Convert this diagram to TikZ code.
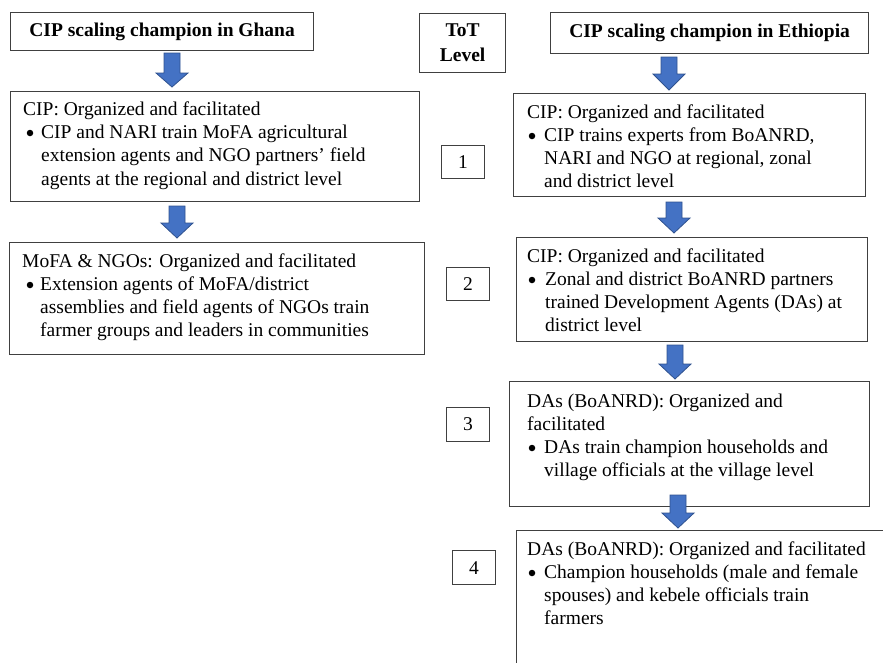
\documentclass[tikz,border=0pt]{standalone}
\usepackage{fontspec}
\setmainfont{Liberation Serif}
\definecolor{arrowblue}{HTML}{4472C4}
\definecolor{arrowedge}{HTML}{2F528F}
\definecolor{boxedge}{HTML}{404040}
\newcommand\bluearrow[4]{%
  \filldraw[arrowblue, draw=arrowedge, line width=0.8pt, line join=miter]
    (#1-8,#2) -- (#1+8,#2) -- (#1+8,#3) -- (#1+16,#3) -- (#1,#4) -- (#1-16,#3) -- (#1-8,#3) -- cycle;}
\begin{document}
\begin{tikzpicture}[x=1pt, y=-1pt,
  box/.style={draw=boxedge, line width=1.2pt, fill=white, inner sep=0pt, anchor=north west},
  txt/.style={inner sep=0pt, anchor=base west, font=\fontsize{19.5}{23.3}\selectfont},
  dot/.style={circle, fill=black, inner sep=0pt, minimum size=6.5pt},
  hdr/.style={font=\fontsize{19.5}{23.3}\selectfont\bfseries},
  lvl/.style={font=\fontsize{19.5}{23.3}\selectfont}]
\useasboundingbox (0,0) rectangle (883,662);
\clip (0,0) rectangle (883,662);
% headers
\node[box, hdr, minimum width=303pt, minimum height=38pt] (gh) at (10,12) {CIP scaling champion in Ghana};
\node[box, hdr, minimum width=86pt, minimum height=59pt, align=center,
      font=\fontsize{19.5}{25}\selectfont\bfseries] (tot) at (419,13) {ToT\\Level};
\node[box, hdr, minimum width=318pt, minimum height=41pt] (eh) at (550,12) {CIP scaling champion in Ethiopia};
% Ghana boxes
\node[box, minimum width=409pt, minimum height=110pt] (g1) at (10,91) {};
\node[box, minimum width=415pt, minimum height=112pt] (g2) at (9,242) {};
% Ethiopia boxes
\node[box, minimum width=352pt, minimum height=103pt] (e1) at (513,93) {};
\node[box, minimum width=351pt, minimum height=104pt] (e2) at (516,237) {};
\node[box, minimum width=360pt, minimum height=125pt] (e3) at (509,381) {};
\node[box, minimum width=400pt, minimum height=160pt] (e4) at (516,530) {};
% level boxes
\node[box, lvl, minimum width=43pt, minimum height=33pt] (l1) at (441,145) {1};
\node[box, lvl, minimum width=43pt, minimum height=33pt] (l2) at (446,267) {2};
\node[box, lvl, minimum width=43pt, minimum height=34pt] (l3) at (446,407) {3};
\node[box, lvl, minimum width=43pt, minimum height=34pt] (l4) at (452,550) {4};
% arrows
\bluearrow{172}{53}{73}{87}
\bluearrow{177}{206}{223}{238}
\bluearrow{669}{57}{74}{90}
\bluearrow{674}{202}{218}{233}
\bluearrow{675}{345}{364}{379}
\bluearrow{678}{495}{513}{528}
% Ghana box 1 text
\node[txt] (g1h) at (23,115) {CIP: Organized and facilitated};
\node[dot] (g1b) at (30,133) {};
\node[txt] (g1a) at (41,138.3) {CIP and NARI train MoFA agricultural};
\node[txt] (g1c) at (41,161.6) {extension agents and NGO partners’ field};
\node[txt] (g1d) at (41,185) {agents at the regional and district level};
% Ghana box 2 text
\node[txt] (g2h) at (22,267) {MoFA \& NGOs: Organized and facilitated};
\node[dot] (g2b) at (30,285) {};
\node[txt] (g2a) at (40,290) {Extension agents of MoFA/district};
\node[txt] (g2c) at (40,313) {assemblies and field agents of NGOs train};
\node[txt] (g2d) at (40,336) {farmer groups and leaders in communities};
% Ethiopia box 1 text
\node[txt] (e1h) at (527,118) {CIP: Organized and facilitated};
\node[dot] (e1b) at (532,136) {};
\node[txt] (e1a) at (544,141) {CIP trains experts from BoANRD,};
\node[txt] (e1c) at (544,164) {NARI and NGO at regional, zonal};
\node[txt] (e1d) at (544,187) {and district level};
% Ethiopia box 2 text
\node[txt] (e2h) at (527,262) {CIP: Organized and facilitated};
\node[dot] (e2b) at (532,280) {};
\node[txt] (e2a) at (545,285) {Zonal and district BoANRD partners};
\node[txt] (e2c) at (545,308) {trained Development Agents (DAs) at};
\node[txt] (e2d) at (545,331) {district level};
% Ethiopia box 3 text
\node[txt] (e3h) at (527,407) {DAs (BoANRD): Organized and};
\node[txt] (e3f) at (527,430) {facilitated};
\node[dot] (e3b) at (532,448) {};
\node[txt] (e3a) at (544,453) {DAs train champion households and};
\node[txt] (e3c) at (544,476) {village officials at the village level};
% Ethiopia box 4 text
\node[txt] (e4h) at (527,555) {DAs (BoANRD): Organized and facilitated};
\node[dot] (e4b) at (532,573) {};
\node[txt] (e4a) at (544,578) {Champion households (male and female};
\node[txt] (e4c) at (544,601) {spouses) and kebele officials train};
\node[txt] (e4d) at (544,624) {farmers};
\end{tikzpicture}
\end{document}
